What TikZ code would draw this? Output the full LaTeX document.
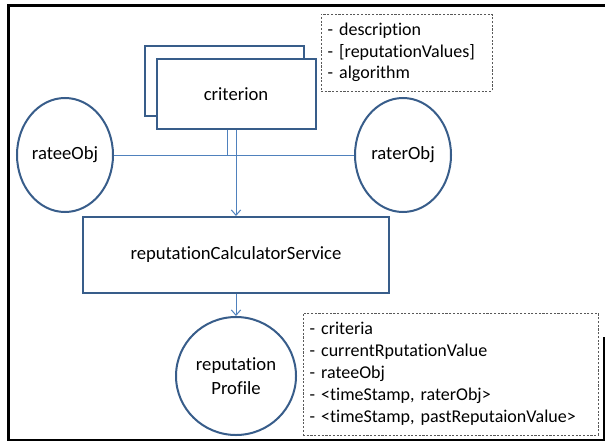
\documentclass[tikz,border=0pt]{standalone}
\usepackage{fontspec}
\setmainfont[Ligatures={NoCommon}]{Carlito}
\usetikzlibrary{shapes.geometric,arrows.meta}
\definecolor{shapeblue}{HTML}{385D8A}
\definecolor{connblue}{HTML}{4F81BD}
\definecolor{notegray}{HTML}{595959}
\tikzset{
  classbox/.style={draw=shapeblue,line width=1.5pt,fill=white,minimum width=119.25pt,minimum height=52.5pt,inner sep=0pt},
  objcircle/.style={ellipse,draw=shapeblue,line width=1.5pt,fill=white,inner sep=0pt,align=center},
  notebox/.style={draw=notegray,line width=0.6pt,dash pattern=on 1.6pt off 1.2pt,align=left,inner xsep=5pt,anchor=center},
  conn/.style={draw=connblue,line width=0.75pt},
}
\begin{document}
\begin{tikzpicture}[x=0.75pt,y=-0.75pt,>={Straight Barb[length=4pt,width=7pt]},font=\fontsize{14}{18}\selectfont]
    \useasboundingbox (0,0) rectangle (605,442);
    % outer frame
    \draw[line width=2.2pt] (605,5.5) -- (8.5,5.5) -- (8.5,440) -- (604,440) -- (604,337);
    % criterion (stacked)
    \node[classbox] (criterionBack) at (224,81) {};
    \node[classbox] (criterion) at (236,94) {criterion};
    \node[notebox,text width=118.25pt,minimum height=57.75pt,font=\fontsize{13.5}{16}\selectfont] (criterionAttrs) at (406.5,52.5)
      {- description\\- [reputationValues]\\- algorithm};
    % rated and rating objects
    \node[objcircle,minimum width=72pt,minimum height=85.5pt] (rateeObj) at (65,155) {rateeObj};
    \node[objcircle,minimum width=72pt,minimum height=85.5pt] (raterObj) at (403,155) {raterObj};
    \node[classbox,minimum width=229.5pt,minimum height=57pt] (calcService) at (236,255) {reputationCalculatorService};
    \node[objcircle,minimum width=90pt,minimum height=88.5pt] (repProfile) at (236,376) {reputation\\Profile};
    \node[notebox,text width=211.25pt,minimum height=91.5pt,font=\fontsize{13.5}{16.5}\selectfont] (profileAttrs) at (450.5,374)
      {- criteria\\- currentRputationValue\\- rateeObj\\- <timeStamp, raterObj>\\- <timeStamp, pastReputaionValue>};
    % connectors
    \coordinate (critLeft) at ([xshift=-6.75pt]criterion.south);
    \draw[conn] (rateeObj.east) -- (raterObj.west);
    \draw[conn] (critLeft) -- (critLeft |- rateeObj.east);
    \draw[conn,->] (criterion.south) -- (calcService.north);
    \draw[conn,->] (calcService.south) -- (repProfile.north);
\end{tikzpicture}
\end{document}
